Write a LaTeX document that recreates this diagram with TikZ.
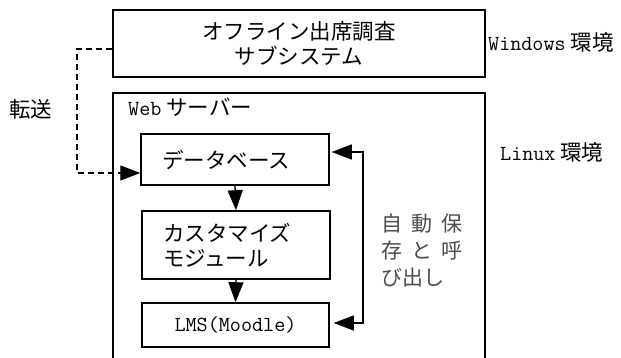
\documentclass[tikz,border=0pt]{standalone}
\usepackage{fontspec}
\setmainfont{Noto Sans CJK JP}
\usetikzlibrary{arrows.meta}
\newcommand{\lt}[1]{{\ttfamily #1}}
\begin{document}
\begin{tikzpicture}[x=1pt,y=-1pt,
  font=\fontsize{21.5}{25}\selectfont,
  box/.style={draw, line width=1.5pt, inner sep=0pt, align=center},
  lbl/.style={inner sep=0pt, anchor=west},
  tip/.tip={Triangle[length=20pt,width=15pt]},
  arr/.style={line width=1.3pt, -tip},
  darr/.style={line width=1.3pt, dash pattern=on 6pt off 4pt, -tip}]
\useasboundingbox (0,0) rectangle (621,358);
% top box
\node[box, minimum width=372pt, minimum height=67pt] (sub) at (299,43.5) {オフライン出席調査\\サブシステム};
% web server container (open at bottom)
\draw[line width=1.5pt] (113,360) -- (113,93) -- (485,93) -- (485,360);
\node[lbl] (web) at (128,107) {\lt{Web} サーバー};
% inner boxes
\node[box, minimum height=51pt, text width=146pt, inner xsep=21pt, align=left] (db) at (235,159.5) {データベース};
\node[box, minimum height=68pt, text width=146pt, inner xsep=21pt, align=left] (cust) at (236,245) {カスタマイズ\\モジュール};
\node[box, minimum width=187pt, minimum height=44pt] (lms) at (235.5,325) {\lt{LMS(Moodle)}};
% arrows
\draw[arr] (db.south) -- (cust.north);
\draw[arr] (cust.south) -- (lms.north);
\coordinate (rt) at (363,152);
\draw[line width=1.3pt, tip-tip, shorten <=2pt, shorten >=4pt] ([yshift=7.5pt]db.east) -- (rt) |- ([yshift=2pt]lms.east);
\coordinate (lt) at (77,49);
\draw[darr] ([yshift=-5.5pt]sub.west) -- (lt) |- ([yshift=-13.5pt]db.west);
% labels
\node[lbl] (tr) at (9,109) {転送};
\node[lbl] (win) at (488,42) {\lt{Windows} 環境};
\node[lbl] (lin) at (500,152) {\lt{Linux} 環境};
\node[lbl, align=left, text=black!70, font=\fontsize{21}{27}\selectfont] (auto) at (381,250) {自\hspace{9pt}動\hspace{9pt}保\\存\hspace{9pt}と\hspace{9pt}呼\\び出し};
\end{tikzpicture}
\end{document}
